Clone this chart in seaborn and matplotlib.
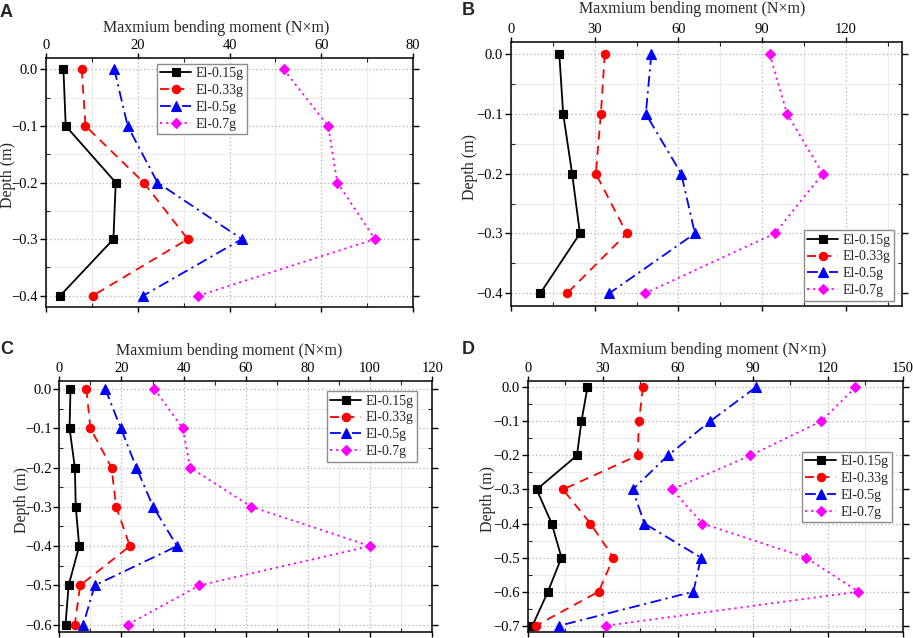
import numpy as np
import pandas as pd
import matplotlib
matplotlib.use("Agg")
import matplotlib.pyplot as plt
from matplotlib.ticker import MultipleLocator
import seaborn as sns

# ---------------- data ----------------
cases = ["El-0.15g", "El-0.33g", "El-0.5g", "El-0.7g"]

depth_A = [0.0, -0.1, -0.2, -0.3, -0.4]
A_015 = [3.8, 4.3, 15.2, 14.7, 3.1]
A_033 = [7.8, 8.6, 21.3, 30.9, 10.2]
A_05 = [14.9, 17.8, 24.3, 42.7, 21.2]
A_07 = [51.8, 61.5, 63.5, 71.7, 33.2]

depth_B = [0.0, -0.1, -0.2, -0.3, -0.4]
B_015 = [17.3, 18.7, 21.9, 24.7, 10.5]
B_033 = [33.6, 32.2, 30.4, 41.5, 20.1]
B_05 = [50.3, 48.3, 61.0, 65.9, 35.2]
B_07 = [92.7, 98.9, 111.7, 94.5, 48.0]

depth_C = [0.0, -0.1, -0.2, -0.3, -0.4, -0.5, -0.6]
C_015 = [3.6, 3.3, 5.0, 5.3, 6.4, 3.0, 2.0]
C_033 = [8.7, 10.0, 16.8, 18.3, 22.7, 6.7, 5.0]
C_05 = [14.8, 19.8, 24.8, 30.2, 37.9, 11.4, 7.7]
C_07 = [30.6, 39.7, 42.1, 61.8, 100.0, 45.1, 22.0]

depth_D = [0.0, -0.1, -0.2, -0.3, -0.4, -0.5, -0.6, -0.7]
D_015 = [23.9, 21.5, 19.7, 3.6, 9.6, 13.5, 8.1, 1.9]
D_033 = [46.1, 44.5, 44.0, 14.1, 25.1, 34.3, 28.4, 3.3]
D_05 = [91.2, 72.9, 56.1, 42.0, 46.7, 69.3, 66.3, 12.7]
D_07 = [131.1, 117.3, 89.1, 57.7, 69.9, 111.3, 132.3, 31.3]

panel_letters = ["A", "B", "C", "D"]
xlabel_text = "Maxmium bending moment (N×m)"
ylabel_text = "Depth (m)"

# ---------------- style ----------------
sns.set_theme(style="white")
plt.rcParams["font.family"] = ["Liberation Serif", "DejaVu Serif"]
plt.rcParams["axes.unicode_minus"] = True

colors = ["#000000", "#ff0000", "#0000ff", "#ff00ff"]
markers = ["s", "o", "^", "D"]
linestyles = ["-", (0, (5, 3.5)), (0, (6, 2.5, 1.2, 2.5)), (0, (1.2, 2.2))]
msizes = [5.5, 6.0, 6.5, 5.5]

W, H = 913, 638
fig = plt.figure(figsize=(W / 100, H / 100), dpi=100)


def rect(l, r, t, b):
    return [l / W, 1 - b / H, (r - l) / W, (b - t) / H]


panels = [
    dict(rect=rect(46, 413, 58.3, 307), depth=depth_A, vals=[A_015, A_033, A_05, A_07],
         xlim=(0, 80), xmaj=20, xmin=10, ylim=(-0.42, 0.0196), leg=("upper left", (0.302, 0.978)),
         xlab=(0.465, 1.107), ylab=(-0.083, 0.53), letter=(0, 3.6)),
    dict(rect=rect(511, 901.7, 42.3, 305.7), depth=depth_B, vals=[B_015, B_033, B_05, B_07],
         xlim=(0, 140), xmaj=30, xmin=15, ylim=(-0.4207, 0.0196), leg=("lower right", (0.981, 0.019)),
         xlab=(0.4645, 1.11), ylab=(-0.085, 0.528), letter=(462, 1.6)),
    dict(rect=rect(59.3, 432.3, 381, 632.3), depth=depth_C, vals=[C_015, C_033, C_05, C_07],
         xlim=(0, 120), xmaj=20, xmin=10, ylim=(-0.6195, 0.0204), leg=("upper right", (0.96, 0.96)),
         xlab=(0.455, 1.104), ylab=(-0.079, 0.526), letter=(0, 340.6)),
    dict(rect=rect(527.7, 902.7, 381, 632), depth=depth_D, vals=[D_015, D_033, D_05, D_07],
         xlim=(0, 150), xmaj=30, xmin=15, ylim=(-0.7185, 0.0186), leg=("upper right", (0.972, 0.718)),
         xlab=(0.495, 1.106), ylab=(-0.084, 0.53), letter=(462, 340.6)),
]

for p, letter in zip(panels, panel_letters):
    ax = fig.add_axes(p["rect"])
    for i, case in enumerate(cases):
        df = pd.DataFrame({"moment": p["vals"][i], "depth": p["depth"]})
        sns.lineplot(data=df, x="moment", y="depth", ax=ax, sort=False, estimator=None,
                     color=colors[i], marker=markers[i], markersize=msizes[i],
                     markeredgecolor=colors[i], markeredgewidth=0.8,
                     linestyle=linestyles[i], linewidth=1.3, label=case, zorder=3)
    ax.set_xlim(*p["xlim"])
    ax.set_ylim(*p["ylim"])
    ax.xaxis.set_major_locator(MultipleLocator(p["xmaj"]))
    ax.xaxis.set_minor_locator(MultipleLocator(p["xmin"]))
    ax.yaxis.set_minor_locator(MultipleLocator(0.05))
    ax.set_yticks(p["depth"])
    ax.set_yticklabels([f"{d:.1f}".replace("-", "\u2212") for d in p["depth"]])

    ax.xaxis.set_label_position("top")
    ax.tick_params(axis="x", which="major", direction="out", length=3.5, width=1.0,
                   top=True, bottom=True, labeltop=True, labelbottom=False,
                   labelsize=10.5, pad=0.8, colors="black")
    ax.tick_params(axis="y", which="major", direction="out", length=4, width=1.0,
                   left=True, right=True, labelsize=10.5, pad=1.6, colors="black")
    ax.tick_params(axis="both", which="minor", direction="in", length=3, width=0.8,
                   top=True, bottom=True, left=True, right=True)
    ax.set_xlabel(xlabel_text, fontsize=11.5)
    ax.set_ylabel(ylabel_text, fontsize=11.5)
    ax.xaxis.set_label_coords(*p["xlab"])
    ax.yaxis.set_label_coords(*p["ylab"])

    ax.grid(True, which="major", color="#bdbdbd", linestyle=(0, (1.2, 1.8)), linewidth=0.9, zorder=0)
    ax.grid(True, which="minor", color="#ececec", linestyle="-", linewidth=0.8, zorder=0)
    ax.set_axisbelow(True)
    for s in ax.spines.values():
        s.set_color("black")
        s.set_linewidth(1.1)

    leg = ax.legend(loc=p["leg"][0], bbox_to_anchor=p["leg"][1], fontsize=10,
                    frameon=True, fancybox=False, edgecolor="#8c8c8c", framealpha=1,
                    handlelength=2.2, handletextpad=0.35, labelspacing=0.28,
                    borderpad=0.25, borderaxespad=0)
    leg.get_frame().set_linewidth(1.0)

    lx, ly = p["letter"]
    fig.text(lx / W, 1 - ly / H, letter, fontsize=13, fontweight="bold",
             family=["Liberation Sans", "DejaVu Sans"], ha="left", va="top")

fig.savefig("out.png", dpi=100)
